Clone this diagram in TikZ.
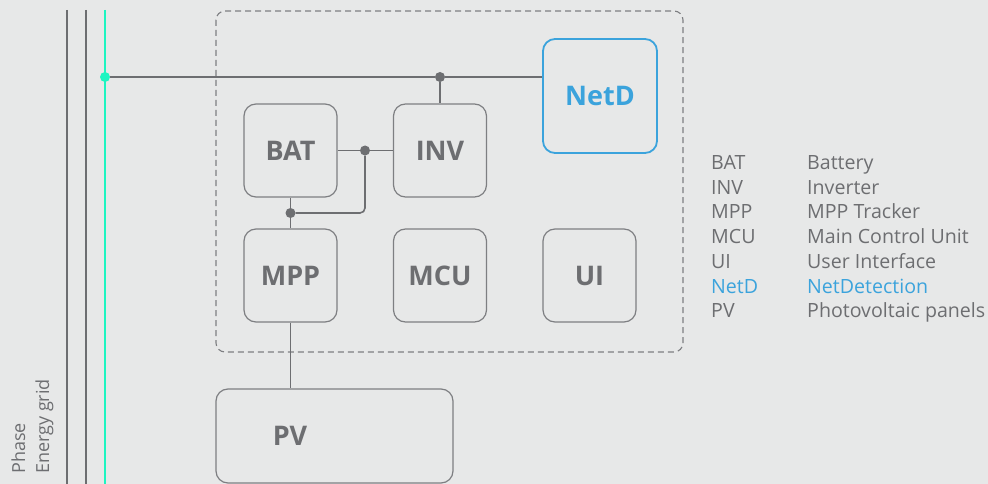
\documentclass[tikz,border=0pt]{standalone}
\usepackage{fontspec}
\setmainfont{Open Sans}
\definecolor{bg}{HTML}{E7E8E8}
\definecolor{ln}{HTML}{6D6E71}
\definecolor{bx}{HTML}{7E7F82}
\definecolor{txt}{HTML}{6D6E71}
\definecolor{netblue}{HTML}{3BA3DC}
\definecolor{grid}{HTML}{1DF5C1}
\tikzset{
  blk/.style={draw=bx, line width=1.2pt, rounded corners=12pt, minimum width=93pt, minimum height=93pt, inner sep=0pt, font=\bfseries\fontsize{27}{27}\selectfont, text=txt},
  wire/.style={draw=ln, line width=1.6pt},
  junc/.style={circle, fill=ln, inner sep=0pt, minimum size=10pt},
  leg/.style={anchor=base west, font=\fontsize{19.6}{19.6}\selectfont, text=txt, inner sep=0pt},
  rot/.style={anchor=base west, rotate=90, font=\fontsize{18}{18}\selectfont, text=txt, inner sep=0pt}
}
\begin{document}
\begin{tikzpicture}[x=1pt,y=-1pt]
\fill[bg] (0,0) rectangle (988,484);
\useasboundingbox (0,0) rectangle (988,484);
% grid lines
\coordinate (g1t) at (67,10); \coordinate (g1b) at (67,484);
\coordinate (g2t) at (86,10); \coordinate (g2b) at (86,484);
\coordinate (g3t) at (105,10); \coordinate (g3b) at (105,484);
\draw[ln, line width=1.8pt] (g1t) -- (g1b);
\draw[ln, line width=1.8pt] (g2t) -- (g2b);
\draw[grid, line width=1.8pt] (g3t) -- (g3b);
% dashed enclosure
\draw[bx, line width=1.1pt, dash pattern=on 6pt off 4pt, rounded corners=9pt] (216,11) rectangle (683,352);
% blocks
\node[blk] (bat) at (290.5,150.5) {BAT};
\node[blk] (inv) at (440,150.5) {INV};
\node[blk] (mpp) at (290.5,275.5) {MPP};
\node[blk] (mcu) at (440,275.5) {MCU};
\node[blk] (ui) at (589.5,275.5) {UI};
\node[blk, draw=netblue, line width=1.8pt, minimum width=114pt, minimum height=114pt, text=netblue] (netd) at (600,96) {NetD};
\node[draw=bx, line width=1.2pt, rounded corners=12pt, minimum width=237pt, minimum height=94pt, inner sep=0pt] (pv) at (334.5,436) {};
\node[font=\bfseries\fontsize{27}{27}\selectfont, text=txt, inner sep=0pt] (pvt) at (290,436) {PV};
% junctions
\node[junc, fill=grid] (jg) at (105,77) {};
\node[junc] (jinv) at (440,77) {};
\node[junc] (jbi) at (365,150.5) {};
\node[junc] (jbm) at (290.5,213) {};
% wires
\draw[wire] (jg) -- (jinv) -- (netd.west |- jinv);
\draw[wire] (jinv) -- (inv.north);
\draw[wire] (bat.east) -- (jbi) -- (inv.west);
\draw[wire, rounded corners=5pt] (jbi) |- (jbm);
\draw[wire] (bat.south) -- (jbm) -- (mpp.north);
\draw[wire] (mpp.south) -- (pv.north -| mpp.south);
% rotated labels
\node[rot] (phase) at (25,474) {Phase};
\node[rot] (egrid) at (49,474) {Energy grid};
% legend
\node[leg] (l1a) at (711,169.5) {BAT};   \node[leg] (l1b) at (807,169.5) {Battery};
\node[leg] (l2a) at (711,194.2) {INV};   \node[leg] (l2b) at (807,194.2) {Inverter};
\node[leg] (l3a) at (711,218.9) {MPP};   \node[leg] (l3b) at (807,218.9) {MPP Tracker};
\node[leg] (l4a) at (711,243.6) {MCU};   \node[leg] (l4b) at (807,243.6) {Main Control Unit};
\node[leg] (l5a) at (711,268.3) {UI};    \node[leg] (l5b) at (807,268.3) {User Interface};
\node[leg, text=netblue] (l6a) at (711,293) {NetD}; \node[leg, text=netblue] (l6b) at (807,293) {NetDetection};
\node[leg] (l7a) at (711,317.7) {PV};    \node[leg] (l7b) at (807,317.7) {Photovoltaic panels};
\end{tikzpicture}
\end{document}
